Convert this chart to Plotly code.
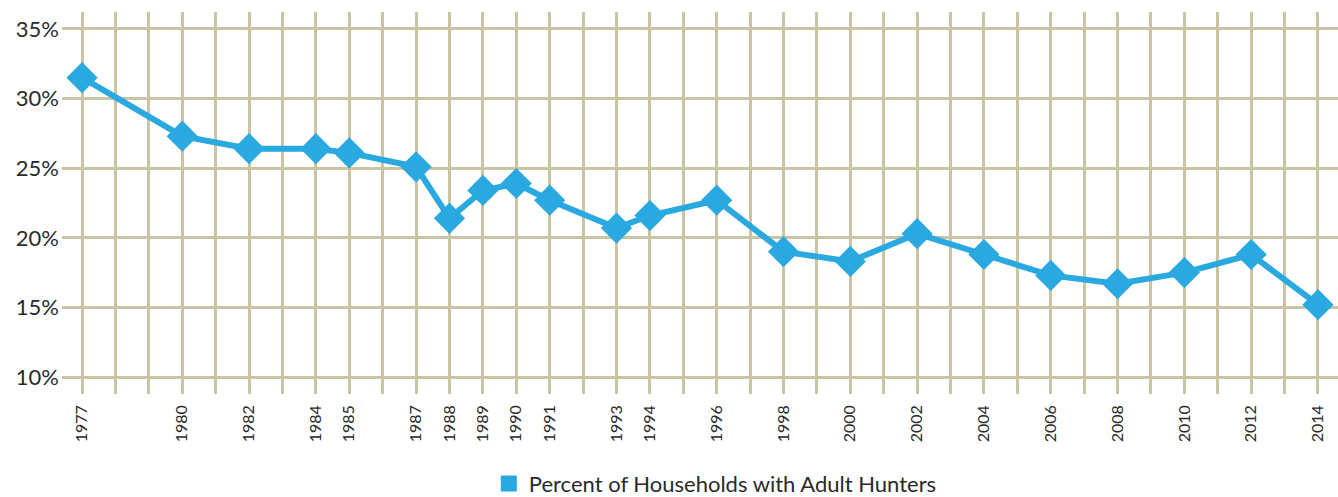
import plotly.graph_objects as go

years = [1977, 1980, 1982, 1984, 1985, 1987, 1988, 1989, 1990, 1991, 1993, 1994,
         1996, 1998, 2000, 2002, 2004, 2006, 2008, 2010, 2012, 2014]
pct_hunters = [31.5, 27.3, 26.4, 26.4, 26.1, 25.1, 21.4, 23.4, 23.9, 22.7, 20.7, 21.6,
               22.7, 19.0, 18.3, 20.3, 18.8, 17.3, 16.7, 17.5, 18.8, 15.2]
series_name = "Percent of Households with Adult Hunters"
y_ticks = [10, 15, 20, 25, 30, 35]

BLUE = "#29A9E0"
GRID = "#C9C4A1"
FONT = "Lato"
TEXT = "#2a2a2a"

fig = go.Figure()
fig.add_trace(go.Scatter(
    x=years, y=pct_hunters, mode="lines+markers", showlegend=False,
    line=dict(color=BLUE, width=6),
    marker=dict(symbol="diamond", size=24, color=BLUE),
    name=series_name,
))
fig.add_trace(go.Scatter(
    x=[None], y=[None], mode="markers", name=series_name,
    marker=dict(symbol="square", size=18, color=BLUE),
))

fig.update_layout(
    width=1338, height=497,
    margin=dict(l=62, r=0, t=12, b=103, autoexpand=False),
    plot_bgcolor="white", paper_bgcolor="white",
    font=dict(family=FONT, color=TEXT),
    showlegend=True,
    legend=dict(orientation="h", x=0.512, xanchor="center", y=-0.235, yanchor="middle",
                font=dict(size=22, family=FONT, color=TEXT),
                itemsizing="trace", bgcolor="rgba(0,0,0,0)"),
)
fig.update_xaxes(
    range=[1976.4, 2014.6], automargin=False,
    tickmode="array", tickvals=years, ticktext=[str(y) for y in years],
    tickangle=-90, tickfont=dict(size=16, family=FONT, color=TEXT),
    ticklabelstandoff=7,
    showgrid=True, gridcolor=GRID, gridwidth=2.5,
    minor=dict(tick0=1977, dtick=1, showgrid=True, gridcolor=GRID, gridwidth=2.5),
    zeroline=False, showline=False, ticks="",
)
fig.update_yaxes(
    range=[8.78, 36.22], automargin=False,
    tickmode="array", tickvals=y_ticks, ticktext=[f"{v}%" for v in y_ticks],
    tickfont=dict(size=22, family=FONT, color=TEXT),
    showgrid=True, gridcolor=GRID, gridwidth=3,
    zeroline=False, showline=False, ticks="", ticklabelstandoff=2,
)

fig.write_html("out.html", config={"displayModeBar": False},
               post_script="document.body.style.margin='0';document.body.style.overflow='hidden';")
